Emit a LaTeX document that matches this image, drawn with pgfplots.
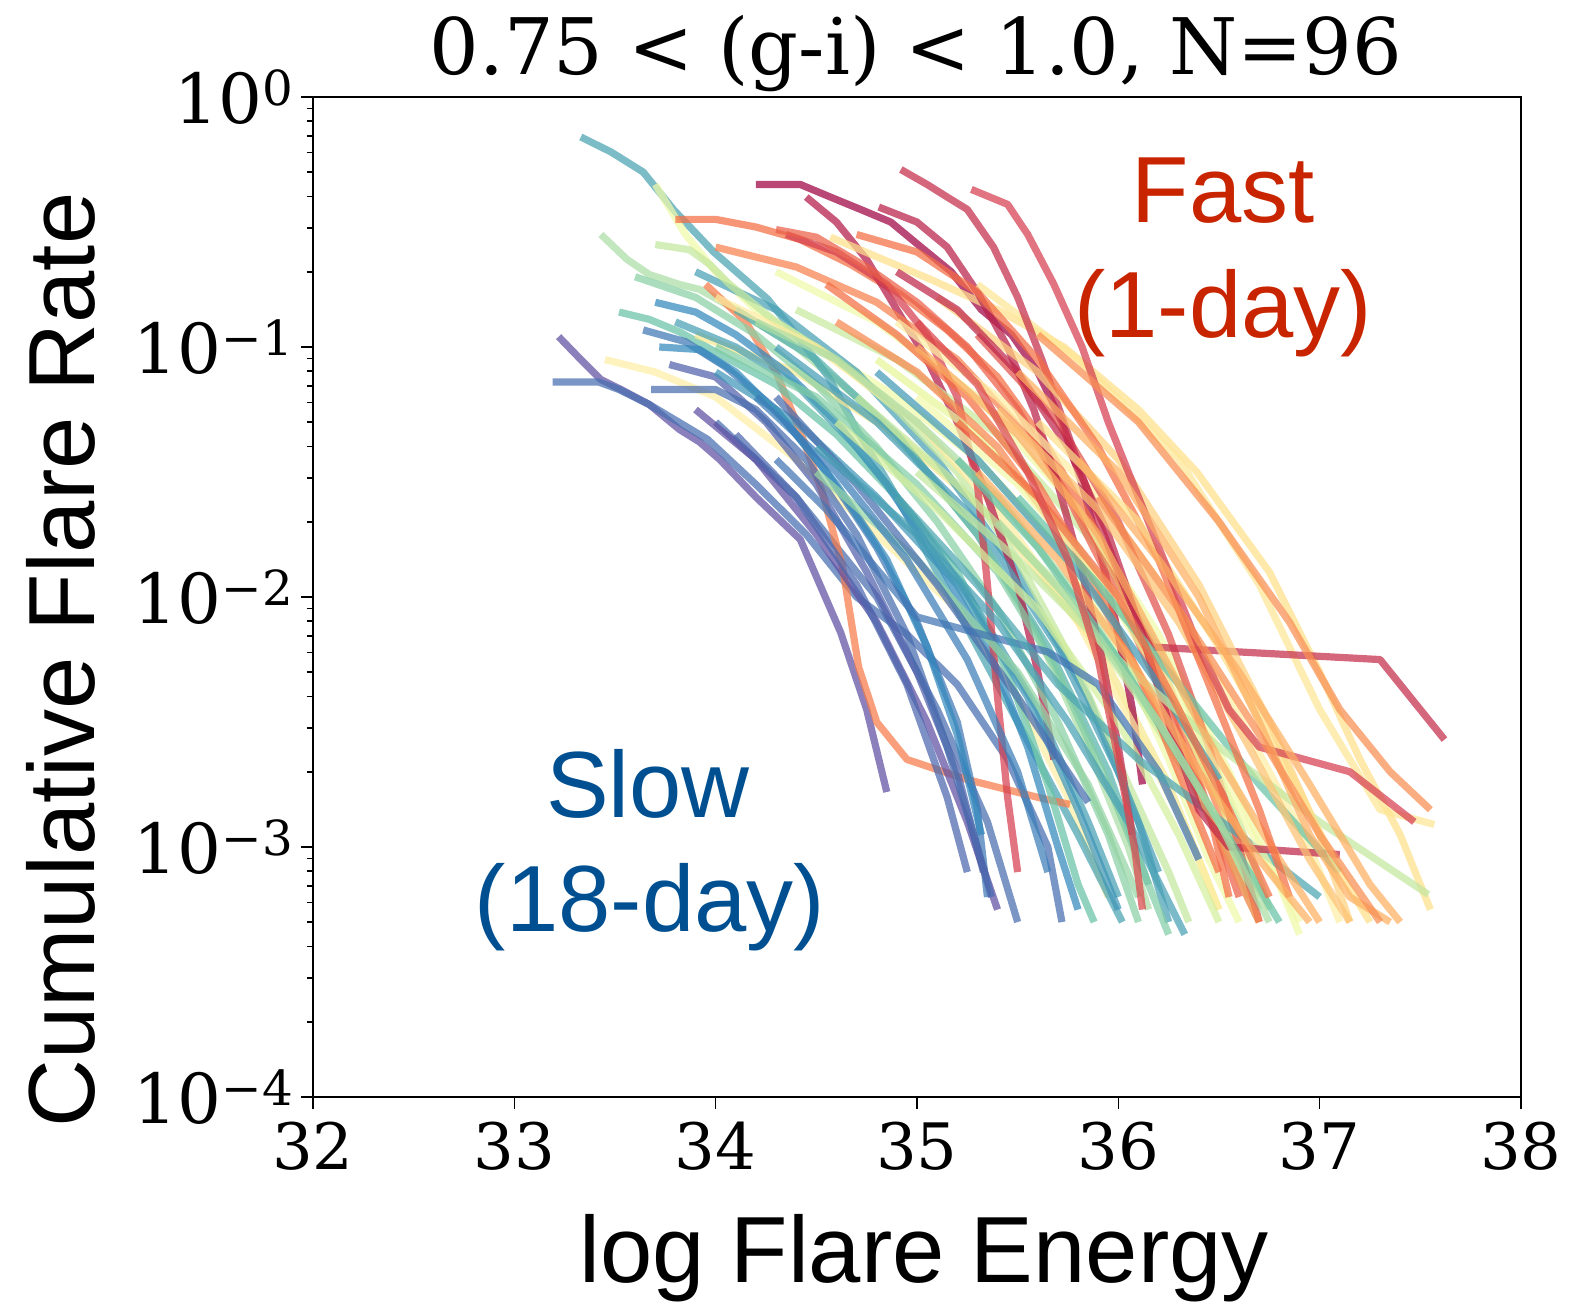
\documentclass[border=0pt]{standalone}
\usepackage{fontspec}
\setmainfont{Liberation Sans}
\newfontfamily\serifdv{DejaVu Serif}
\usepackage{pgfplots}
\pgfplotsset{compat=1.18}
\definecolor{s0}{HTML}{9E0142}
\definecolor{s1}{HTML}{D53E4F}
\definecolor{s2}{HTML}{F46D43}
\definecolor{s3}{HTML}{FDAE61}
\definecolor{s4}{HTML}{FEE08B}
\definecolor{s5}{HTML}{FFFFBF}
\definecolor{s6}{HTML}{E6F598}
\definecolor{s7}{HTML}{ABDDA4}
\definecolor{s8}{HTML}{66C2A5}
\definecolor{s9}{HTML}{3288BD}
\definecolor{s10}{HTML}{5E4FA2}
\definecolor{fastred}{RGB}{200,36,0}
\definecolor{slowblue}{RGB}{0,80,145}
\begin{document}
\begin{tikzpicture}
\path[use as bounding box] (-156.5pt,-103.5pt) rectangle (631pt,548.5pt);
\begin{axis}[
  at={(0pt,0pt)}, anchor=south west,
  scale only axis, width=604pt, height=500pt,
  xmin=32, xmax=38, ymin=1e-4, ymax=1, ymode=log,
  xtick={32,33,34,35,36,37,38}, xticklabels={32,33,34,35,36,37,38},
  minor x tick num=0,
  ytick={1e-4,1e-3,1e-2,1e-1,1},
  yticklabels={10\textsuperscript{−4},10\textsuperscript{−3},10\textsuperscript{−2},10\textsuperscript{−1},10\textsuperscript{0}},
  minor ytick={2e-4,3e-4,4e-4,5e-4,6e-4,7e-4,8e-4,9e-4,2e-3,3e-3,4e-3,5e-3,6e-3,7e-3,8e-3,9e-3,2e-2,3e-2,4e-2,5e-2,6e-2,7e-2,8e-2,9e-2,2e-1,3e-1,4e-1,5e-1,6e-1,7e-1,8e-1,9e-1},
  tick align=outside, xtick pos=bottom, ytick pos=left,
  major tick length=6pt, minor tick length=3pt,
  tick style={black, line width=0.8pt},
  x tick label style={font=\serifdv\fontsize{32}{33}\selectfont, yshift=-3pt},
  y tick label style={font=\serifdv\fontsize{34.5}{35}\selectfont},
  axis line style={line width=0.9pt},
  every axis plot/.append style={line width=3.6pt, draw opacity=0.72, line join=round, line cap=butt, mark=none},
]
% P1
\addplot[s10] coordinates {(33.22,1.10e-1)(33.33,8.91e-2)(33.43,7.41e-2)(33.53,6.76e-2)(33.67,5.89e-2)(33.82,4.68e-2)(33.92,4.17e-2)(34.02,3.55e-2)(34.2,2.51e-2)(34.42,1.70e-2)(34.62,7.24e-3)(34.75,3.55e-3)(34.85,1.66e-3)};
% E4
\addplot[s9!55!s10] coordinates {(33.19,7.24e-2)(33.42,7.24e-2)(33.52,6.76e-2)(33.67,5.89e-2)(33.96,4.27e-2)(34.2,2.82e-2)(34.45,1.78e-2)(34.7,1e-2)(34.95,7.08e-3)(35.2,4.47e-3)(35.45,2.24e-3)(35.65,1e-3)(35.72,5.01e-4)};
% G1
\addplot[s7] coordinates {(33.43,2.82e-1)(33.56,2.24e-1)(33.67,1.95e-1)(33.82,1.78e-1)(33.92,1.70e-1)(34.1,1.41e-1)(34.4,1e-1)(34.7,6.31e-2)(35.0,3.55e-2)(35.3,1.78e-2)(35.6,7.08e-3)(35.85,2.51e-3)(36.05,1e-3)(36.15,5.62e-4)};
% Y4
\addplot[s4!50!s5] coordinates {(33.45,8.91e-2)(33.7,7.94e-2)(34.0,6.31e-2)(34.4,3.55e-2)(34.8,1.78e-2)(35.2,8.91e-3)(35.5,3.98e-3)(35.75,1.58e-3)(35.95,6.31e-4)};
% N12
\addplot[s9!50!s10] coordinates {(34.0,5.01e-2)(34.4,2.51e-2)(34.8,1e-2)(35.1,3.55e-3)(35.35,1.26e-3)(35.5,5.01e-4)};
% E1
\addplot[s8!45!s9] coordinates {(33.33,6.92e-1)(33.48,6.03e-1)(33.64,5.01e-1)(33.79,3.55e-1)(33.99,2.40e-1)(34.26,1.55e-1)(34.42,1.07e-1)(34.56,7.59e-2)(34.7,4.68e-2)(34.9,2.51e-2)(35.1,1.26e-2)(35.3,6.31e-3)(35.5,3.16e-3)(35.8,1.12e-3)(36.02,5.01e-4)};
% O3
\addplot[s2!80!s3] coordinates {(33.95,1.78e-1)(34.15,1.26e-1)(34.3,7.94e-2)(34.43,4.37e-2)(34.53,2.63e-2)(34.63,1.32e-2)(34.71,5.25e-3)(34.8,3.16e-3)(34.95,2.24e-3)(35.25,1.86e-3)(35.6,1.58e-3)(35.76,1.48e-3)};
% G3
\addplot[s8] coordinates {(33.52,1.38e-1)(33.67,1.29e-1)(33.82,1.15e-1)(34.0,9.55e-2)(34.3,7.08e-2)(34.6,4.47e-2)(34.9,2.51e-2)(35.2,1.26e-2)(35.45,5.01e-3)(35.65,1.78e-3)(35.8,7.08e-4)(35.88,5.01e-4)};
% N14
\addplot[s4!60!s6] coordinates {(33.9,1.12e-1)(34.4,7.94e-2)(34.9,4.47e-2)(35.4,2.00e-2)(35.9,6.31e-3)(36.25,1.78e-3)(36.5,5.62e-4)};
% E2
\addplot[s9] coordinates {(33.7,1.51e-1)(33.9,1.38e-1)(34.1,1.12e-1)(34.35,7.94e-2)(34.6,5.01e-2)(34.85,2.82e-2)(35.1,1.41e-2)(35.35,6.31e-3)(35.55,2.51e-3)(35.7,1e-3)(35.8,5.62e-4)};
% Y3
\addplot[s6!60!s5] coordinates {(33.7,4.47e-1)(33.85,2.82e-1)(34.0,2.00e-1)(34.2,1.41e-1)(34.5,1e-1)(34.9,6.31e-2)(35.3,3.55e-2)(35.7,1.58e-2)(36.0,6.31e-3)(36.25,2.24e-3)(36.45,8.91e-4)(36.6,5.01e-4)};
% R1
\addplot[s0] coordinates {(34.2,4.47e-1)(34.42,4.47e-1)(34.57,3.98e-1)(34.72,3.55e-1)(34.87,3.16e-1)(35.02,2.51e-1)(35.17,2.00e-1)(35.32,1.41e-1)(35.47,1.12e-1)(35.6,7.94e-2)(35.72,5.01e-2)(35.82,2.82e-2)(35.92,1.41e-2)(36.0,7.08e-3)(36.07,3.55e-3)(36.12,1.78e-3)};
% N7
\addplot[s9!60!s8] coordinates {(33.9,2.00e-1)(34.3,1.41e-1)(34.7,7.94e-2)(35.1,3.55e-2)(35.5,1.26e-2)(35.85,3.98e-3)(36.1,1.26e-3)(36.25,5.01e-4)};
% E3
\addplot[s9!70!s10] coordinates {(33.64,1.17e-1)(33.85,1.05e-1)(34.05,8.32e-2)(34.3,5.62e-2)(34.55,3.16e-2)(34.8,1.58e-2)(35.0,7.94e-3)(35.2,3.16e-3)(35.3,1.41e-3)(35.35,6.31e-4)};
% G2
\addplot[s7!60!s6] coordinates {(33.7,2.57e-1)(33.87,2.45e-1)(33.97,2.14e-1)(34.07,1.78e-1)(34.3,1.26e-1)(34.6,8.91e-2)(34.9,5.62e-2)(35.2,3.16e-2)(35.5,1.41e-2)(35.8,5.01e-3)(36.05,1.78e-3)(36.25,7.94e-4)(36.35,5.01e-4)};
% O1
\addplot[s2] coordinates {(33.8,3.24e-1)(34.0,3.24e-1)(34.2,3.02e-1)(34.42,2.69e-1)(34.67,2.14e-1)(34.92,1.62e-1)(35.15,1.17e-1)(35.4,7.59e-2)(35.65,3.98e-2)(35.9,1.78e-2)(36.1,7.94e-3)(36.3,3.16e-3)(36.45,1.41e-3)(36.55,6.31e-4)};
% P2
\addplot[s10!70!s9] coordinates {(33.77,8.51e-2)(34.0,7.59e-2)(34.25,5.01e-2)(34.5,2.82e-2)(34.75,1.26e-2)(35.0,5.01e-3)(35.2,2.00e-3)(35.33,7.94e-4)};
% N3
\addplot[s8!70!s9] coordinates {(34.1,1.41e-1)(34.5,8.91e-2)(34.9,4.47e-2)(35.3,1.78e-2)(35.65,6.31e-3)(35.95,2.00e-3)(36.15,7.08e-4)};
% E5
\addplot[s9] coordinates {(33.72,1e-1)(33.92,9.77e-2)(34.1,7.94e-2)(34.35,5.01e-2)(34.6,2.82e-2)(34.85,1.41e-2)(35.05,6.31e-3)(35.2,2.82e-3)(35.32,1.12e-3)};
% Y5
\addplot[s5!40!s4] coordinates {(34.0,1.58e-1)(34.5,1e-1)(35.0,5.01e-2)(35.4,2.24e-2)(35.8,7.94e-3)(36.1,2.82e-3)(36.35,1.12e-3)(36.5,5.62e-4)};
% R2
\addplot[s0!60!s1] coordinates {(34.45,3.98e-1)(34.6,3.16e-1)(34.75,2.24e-1)(34.9,1.41e-1)(35.05,8.91e-2)(35.2,5.01e-2)(35.35,2.51e-2)(35.5,1.12e-2)(35.6,5.01e-3)(35.68,2.24e-3)};
% G12
\addplot[s7!50!s8] coordinates {(33.6,1.91e-1)(33.9,1.58e-1)(34.2,1.12e-1)(34.5,7.08e-2)(34.8,3.98e-2)(35.1,2.00e-2)(35.4,8.91e-3)(35.7,3.16e-3)(35.95,1.12e-3)(36.1,5.01e-4)};
% N1
\addplot[s7!50!s6] coordinates {(34.4,1.41e-1)(34.9,8.91e-2)(35.4,4.47e-2)(35.9,1.58e-2)(36.3,4.47e-3)(36.6,1.26e-3)(36.75,5.62e-4)};
% E13
\addplot[s8!40!s9] coordinates {(33.8,1.26e-1)(34.1,1e-1)(34.4,7.08e-2)(34.7,3.98e-2)(35.0,2.00e-2)(35.3,8.91e-3)(35.6,3.55e-3)(35.85,1.26e-3)(36.0,6.31e-4)};
% O11
\addplot[s2!70!s3] coordinates {(34.0,2.51e-1)(34.4,2.09e-1)(34.8,1.51e-1)(35.2,8.91e-2)(35.6,3.98e-2)(35.95,1.41e-2)(36.25,4.47e-3)(36.5,1.41e-3)(36.65,6.31e-4)};
% P3
\addplot[s10] coordinates {(33.9,5.62e-2)(34.2,3.55e-2)(34.5,1.78e-2)(34.8,7.94e-3)(35.05,3.16e-3)(35.25,1.26e-3)(35.4,5.62e-4)};
% E7
\addplot[s9!50!s10] coordinates {(33.68,6.76e-2)(34.0,6.76e-2)(34.2,5.62e-2)(34.45,3.55e-2)(34.7,1.78e-2)(34.95,7.08e-3)(35.15,2.51e-3)(35.3,1e-3)(35.37,6.31e-4)};
% G5
\addplot[s8!60!s7] coordinates {(34.0,1e-1)(34.5,6.31e-2)(35.0,2.82e-2)(35.4,1.26e-2)(35.7,5.01e-3)(35.95,1.78e-3)(36.15,7.08e-4)(36.25,4.47e-4)};
% Y8
\addplot[s6!60!s5] coordinates {(34.3,2.00e-1)(34.8,1.26e-1)(35.3,6.31e-2)(35.8,2.24e-2)(36.2,7.08e-3)(36.55,2.00e-3)(36.8,7.08e-4)(36.9,4.47e-4)};
% R6
\addplot[s1] coordinates {(34.35,2.82e-1)(34.6,2.40e-1)(34.85,1.78e-1)(35.05,1.12e-1)(35.2,6.31e-2)(35.3,2.82e-2)(35.35,1.12e-2)(35.4,3.98e-3)(35.45,1.58e-3)(35.5,7.94e-4)};
% E6
\addplot[s9!75!s8] coordinates {(34.0,7.94e-2)(34.4,5.01e-2)(34.8,2.51e-2)(35.2,1.12e-2)(35.55,3.98e-3)(35.8,1.41e-3)(36.0,5.62e-4)};
% N10
\addplot[s7!70!s8] coordinates {(34.5,3.16e-2)(35.0,1.41e-2)(35.5,5.01e-3)(35.85,1.78e-3)(36.1,6.31e-4)};
% G4
\addplot[s7] coordinates {(34.2,1.26e-1)(34.6,8.91e-2)(35.0,5.01e-2)(35.4,2.51e-2)(35.8,1e-2)(36.2,3.16e-3)(36.5,1.12e-3)(36.7,5.62e-4)};
% O2
\addplot[s2!70!s1] coordinates {(34.3,2.95e-1)(34.5,2.75e-1)(34.75,2.09e-1)(35.0,1.51e-1)(35.25,1e-1)(35.5,5.62e-2)(35.75,2.51e-2)(36.0,1e-2)(36.25,3.55e-3)(36.45,1.41e-3)(36.6,6.31e-4)};
% P4
\addplot[s10!60!s9] coordinates {(34.1,4.47e-2)(34.4,2.51e-2)(34.7,1.12e-2)(34.95,4.47e-3)(35.15,1.58e-3)(35.25,7.94e-4)};
% E10
\addplot[s9!80!s10] coordinates {(34.2,6.31e-2)(34.6,3.16e-2)(34.95,1.41e-2)(35.25,5.62e-3)(35.5,2.00e-3)(35.65,7.94e-4)};
% Y1
\addplot[s4] coordinates {(34.57,2.75e-1)(35.07,1.86e-1)(35.4,1.41e-1)(35.73,1e-1)(36.1,5.62e-2)(36.39,3.16e-2)(36.75,1.26e-2)(37.0,5.01e-3)(37.2,2.24e-3)(37.4,1.12e-3)(37.55,5.62e-4)};
% N4
\addplot[s6!50!s7] coordinates {(34.7,6.31e-2)(35.2,2.82e-2)(35.7,1.12e-2)(36.1,3.98e-3)(36.45,1.41e-3)(36.7,5.01e-4)};
% R5
\addplot[s0!50!s1] coordinates {(34.81,3.63e-1)(35.0,3.16e-1)(35.15,2.51e-1)(35.3,1.66e-1)(35.45,1e-1)(35.58,5.62e-2)(35.7,2.82e-2)(35.82,1.26e-2)(35.92,5.62e-3)(36.0,2.51e-3)(36.07,1.12e-3)};
% E11
\addplot[s8!35!s9] coordinates {(34.3,1e-1)(34.8,5.01e-2)(35.3,2.00e-2)(35.7,6.31e-3)(36.0,2.00e-3)(36.2,7.94e-4)};
% G10
\addplot[s6!70!s7] coordinates {(34.6,5.01e-2)(35.1,2.24e-2)(35.6,8.91e-3)(36.0,3.16e-3)(36.3,1.12e-3)(36.5,5.01e-4)};
% O9
\addplot[s2] coordinates {(34.55,1.78e-1)(34.9,1.12e-1)(35.25,6.31e-2)(35.6,2.82e-2)(35.9,1.12e-2)(36.15,3.98e-3)(36.35,1.58e-3)(36.5,7.94e-4)};
% N8
\addplot[s5!50!s4] coordinates {(34.9,1.26e-1)(35.4,6.31e-2)(35.9,2.51e-2)(36.3,8.91e-3)(36.65,2.82e-3)(36.95,1e-3)(37.1,5.01e-4)};
% P5
\addplot[s10!50!s9] coordinates {(34.3,6.31e-2)(34.7,2.82e-2)(35.1,1.12e-2)(35.5,3.98e-3)(35.85,1.51e-3)};
% E12
\addplot[s9!65!s10] coordinates {(34.3,3.55e-2)(34.55,2.24e-2)(35.0,8.32e-3)(35.65,6.03e-3)(35.9,4.47e-3)(36.2,2.00e-3)(36.4,8.91e-4)};
% G6
\addplot[s6] coordinates {(34.8,8.91e-2)(35.3,4.47e-2)(35.8,1.58e-2)(36.2,5.01e-3)(36.5,1.58e-3)(36.7,6.31e-4)};
% N6
\addplot[s1!60!s2] coordinates {(35.3,1.12e-1)(35.7,5.01e-2)(36.0,2.00e-2)(36.25,7.08e-3)(36.45,2.51e-3)(36.6,1e-3)(36.7,5.01e-4)};
% Y2
\addplot[s4!80!s5] coordinates {(35.3,1.78e-1)(35.8,8.91e-2)(36.3,3.55e-2)(36.7,1.12e-2)(37.0,3.55e-3)(37.3,1.41e-3)(37.57,1.23e-3)};
% R3
\addplot[s1!70!s0] coordinates {(34.92,5.13e-1)(35.05,4.47e-1)(35.15,3.98e-1)(35.25,3.55e-1)(35.38,2.51e-1)(35.5,1.58e-1)(35.62,8.91e-2)(35.75,4.47e-2)(35.88,2.24e-2)(36.0,1.26e-2)(36.1,7.94e-3)(36.17,6.31e-3)(36.6,6.03e-3)(37.3,5.62e-3)(37.62,2.69e-3)};
% E8
\addplot[s9!60!s8] coordinates {(34.5,3.98e-2)(35.0,1.78e-2)(35.4,7.94e-3)(35.75,3.16e-3)(36.05,1.26e-3)(36.33,4.47e-4)};
% G9
\addplot[s8!50!s9] coordinates {(34.9,2.51e-2)(35.3,1.12e-2)(35.7,4.47e-3)(36.1,2.24e-3)(36.6,1.12e-3)(37.0,6.31e-4)};
% O4
\addplot[s2!60!s3] coordinates {(34.6,1.26e-1)(35.0,7.94e-2)(35.4,3.98e-2)(35.8,1.41e-2)(36.1,5.01e-3)(36.35,2.00e-3)(36.55,8.91e-4)(36.7,5.01e-4)};
% N2
\addplot[s4!70!s3] coordinates {(35.1,1.58e-1)(35.6,7.94e-2)(36.0,3.55e-2)(36.4,1.12e-2)(36.75,3.16e-3)(37.0,1.12e-3)(37.15,5.01e-4)};
% Y6
\addplot[s6!50!s5] coordinates {(35.0,6.31e-2)(35.5,2.82e-2)(36.0,1e-2)(36.4,2.82e-3)(36.7,1e-3)(36.9,5.01e-4)};
% R7
\addplot[s0!40!s1] coordinates {(34.9,2.00e-1)(35.2,1.41e-1)(35.5,7.94e-2)(35.75,3.98e-2)(35.95,1.78e-2)(36.1,7.94e-3)(36.25,3.16e-3)(36.4,1.41e-3)(36.55,1e-3)(37.1,9.33e-4)};
% E9
\addplot[s9!70!s8] coordinates {(34.8,7.94e-2)(35.3,3.55e-2)(35.8,1.26e-2)(36.2,4.47e-3)(36.5,1.86e-3)};
% N9
\addplot[s8] coordinates {(35.5,2.51e-2)(35.9,1.12e-2)(36.3,4.47e-3)(36.7,1.78e-3)(37.1,7.94e-4)};
% G7
\addplot[s7!60!s6] coordinates {(35.0,3.16e-2)(35.5,1.41e-2)(36.0,5.62e-3)(36.5,2.51e-3)(37.0,1.26e-3)(37.54,6.46e-4)};
% O5
\addplot[s3] coordinates {(35.0,1e-1)(35.5,4.47e-2)(35.9,1.78e-2)(36.2,6.31e-3)(36.5,2.24e-3)(36.8,8.91e-4)(37.0,5.01e-4)};
% N5
\addplot[s3!60!s4] coordinates {(35.4,5.62e-2)(35.9,2.24e-2)(36.3,7.94e-3)(36.65,2.51e-3)(36.95,8.91e-4)(37.15,5.01e-4)};
% O12
\addplot[s2] coordinates {(34.7,2.82e-1)(35.0,2.40e-1)(35.3,1.66e-1)(35.6,8.91e-2)(35.9,3.98e-2)(36.2,1.41e-2)(36.45,4.47e-3)(36.7,1.41e-3)(36.85,6.31e-4)};
% G8
\addplot[s8] coordinates {(35.2,3.55e-2)(35.6,1.58e-2)(36.0,5.62e-3)(36.35,2.00e-3)(36.65,7.94e-4)(36.8,5.01e-4)};
% Y7
\addplot[s4] coordinates {(35.6,5.01e-2)(36.1,2.00e-2)(36.5,6.31e-3)(36.85,2.00e-3)(37.1,7.94e-4)(37.25,5.01e-4)};
% R4
\addplot[s1] coordinates {(35.27,4.27e-1)(35.45,3.72e-1)(35.55,2.82e-1)(35.68,1.78e-1)(35.82,1e-1)(35.95,5.01e-2)(36.1,2.51e-2)(36.25,1.26e-2)(36.4,6.31e-3)(36.55,3.55e-3)(36.7,2.51e-3)(37.15,2.00e-3)(37.47,1.26e-3)};
% O6
\addplot[s2] coordinates {(35.2,5.01e-2)(35.6,2.51e-2)(36.0,1e-2)(36.3,3.55e-3)(36.55,1.41e-3)(36.75,6.31e-4)};
% N11
\addplot[s3] coordinates {(35.8,3.55e-2)(36.2,1.41e-2)(36.6,5.01e-3)(36.95,1.78e-3)(37.25,7.08e-4)(37.4,5.01e-4)};
% G11
\addplot[s7] coordinates {(35.4,2.00e-2)(35.8,8.91e-3)(36.2,3.16e-3)(36.5,1.26e-3)(36.75,5.01e-4)};
% O7
\addplot[s3] coordinates {(35.5,7.94e-2)(36.0,3.16e-2)(36.4,1e-2)(36.7,3.16e-3)(36.95,1.12e-3)(37.15,6.31e-4)(37.35,5.01e-4)};
% N15
\addplot[s2!50!s3] coordinates {(35.9,2.51e-2)(36.3,8.91e-3)(36.7,2.82e-3)(37.0,1.12e-3)(37.3,5.01e-4)};
% O10
\addplot[s3] coordinates {(35.3,3.16e-2)(35.7,1.41e-2)(36.1,5.01e-3)(36.4,2.00e-3)(36.7,8.91e-4)(36.95,5.01e-4)};
% R8
\addplot[s1!80!s2] coordinates {(35.0,1.26e-1)(35.3,7.08e-2)(35.55,3.16e-2)(35.75,1.41e-2)(35.9,5.62e-3)(36.0,2.24e-3)(36.08,1e-3)(36.12,5.62e-4)};
% O8
\addplot[s3!50!s2] coordinates {(35.6,1.12e-1)(36.1,5.01e-2)(36.5,2.00e-2)(36.85,7.94e-3)(37.1,3.55e-3)(37.35,2.00e-3)(37.55,1.41e-3)};
\end{axis}
\node[anchor=base, font=\serifdv\fontsize{39}{40}\selectfont] at (301.5pt,511pt) {0.75 < (g-i) < 1.0, N=96};
\node[rotate=90, anchor=base, font=\fontsize{47}{48}\selectfont] at (-109pt,218.5pt) {Cumulative Flare Rate};
\node[anchor=base, font=\fontsize{47}{48}\selectfont] at (305.5pt,-93pt) {log Flare Energy};
\node[anchor=base, text=fastred, font=\fontsize{47}{48}\selectfont] at (455pt,437pt) {Fast};
\node[anchor=base, text=fastred, font=\fontsize{47}{48}\selectfont] at (455pt,379.5pt) {(1-day)};
\node[anchor=base, text=slowblue, font=\fontsize{47}{48}\selectfont] at (167.5pt,139.5pt) {Slow};
\node[anchor=base, text=slowblue, font=\fontsize{47}{48}\selectfont] at (168.5pt,82.5pt) {(18-day)};
\end{tikzpicture}
\end{document}
